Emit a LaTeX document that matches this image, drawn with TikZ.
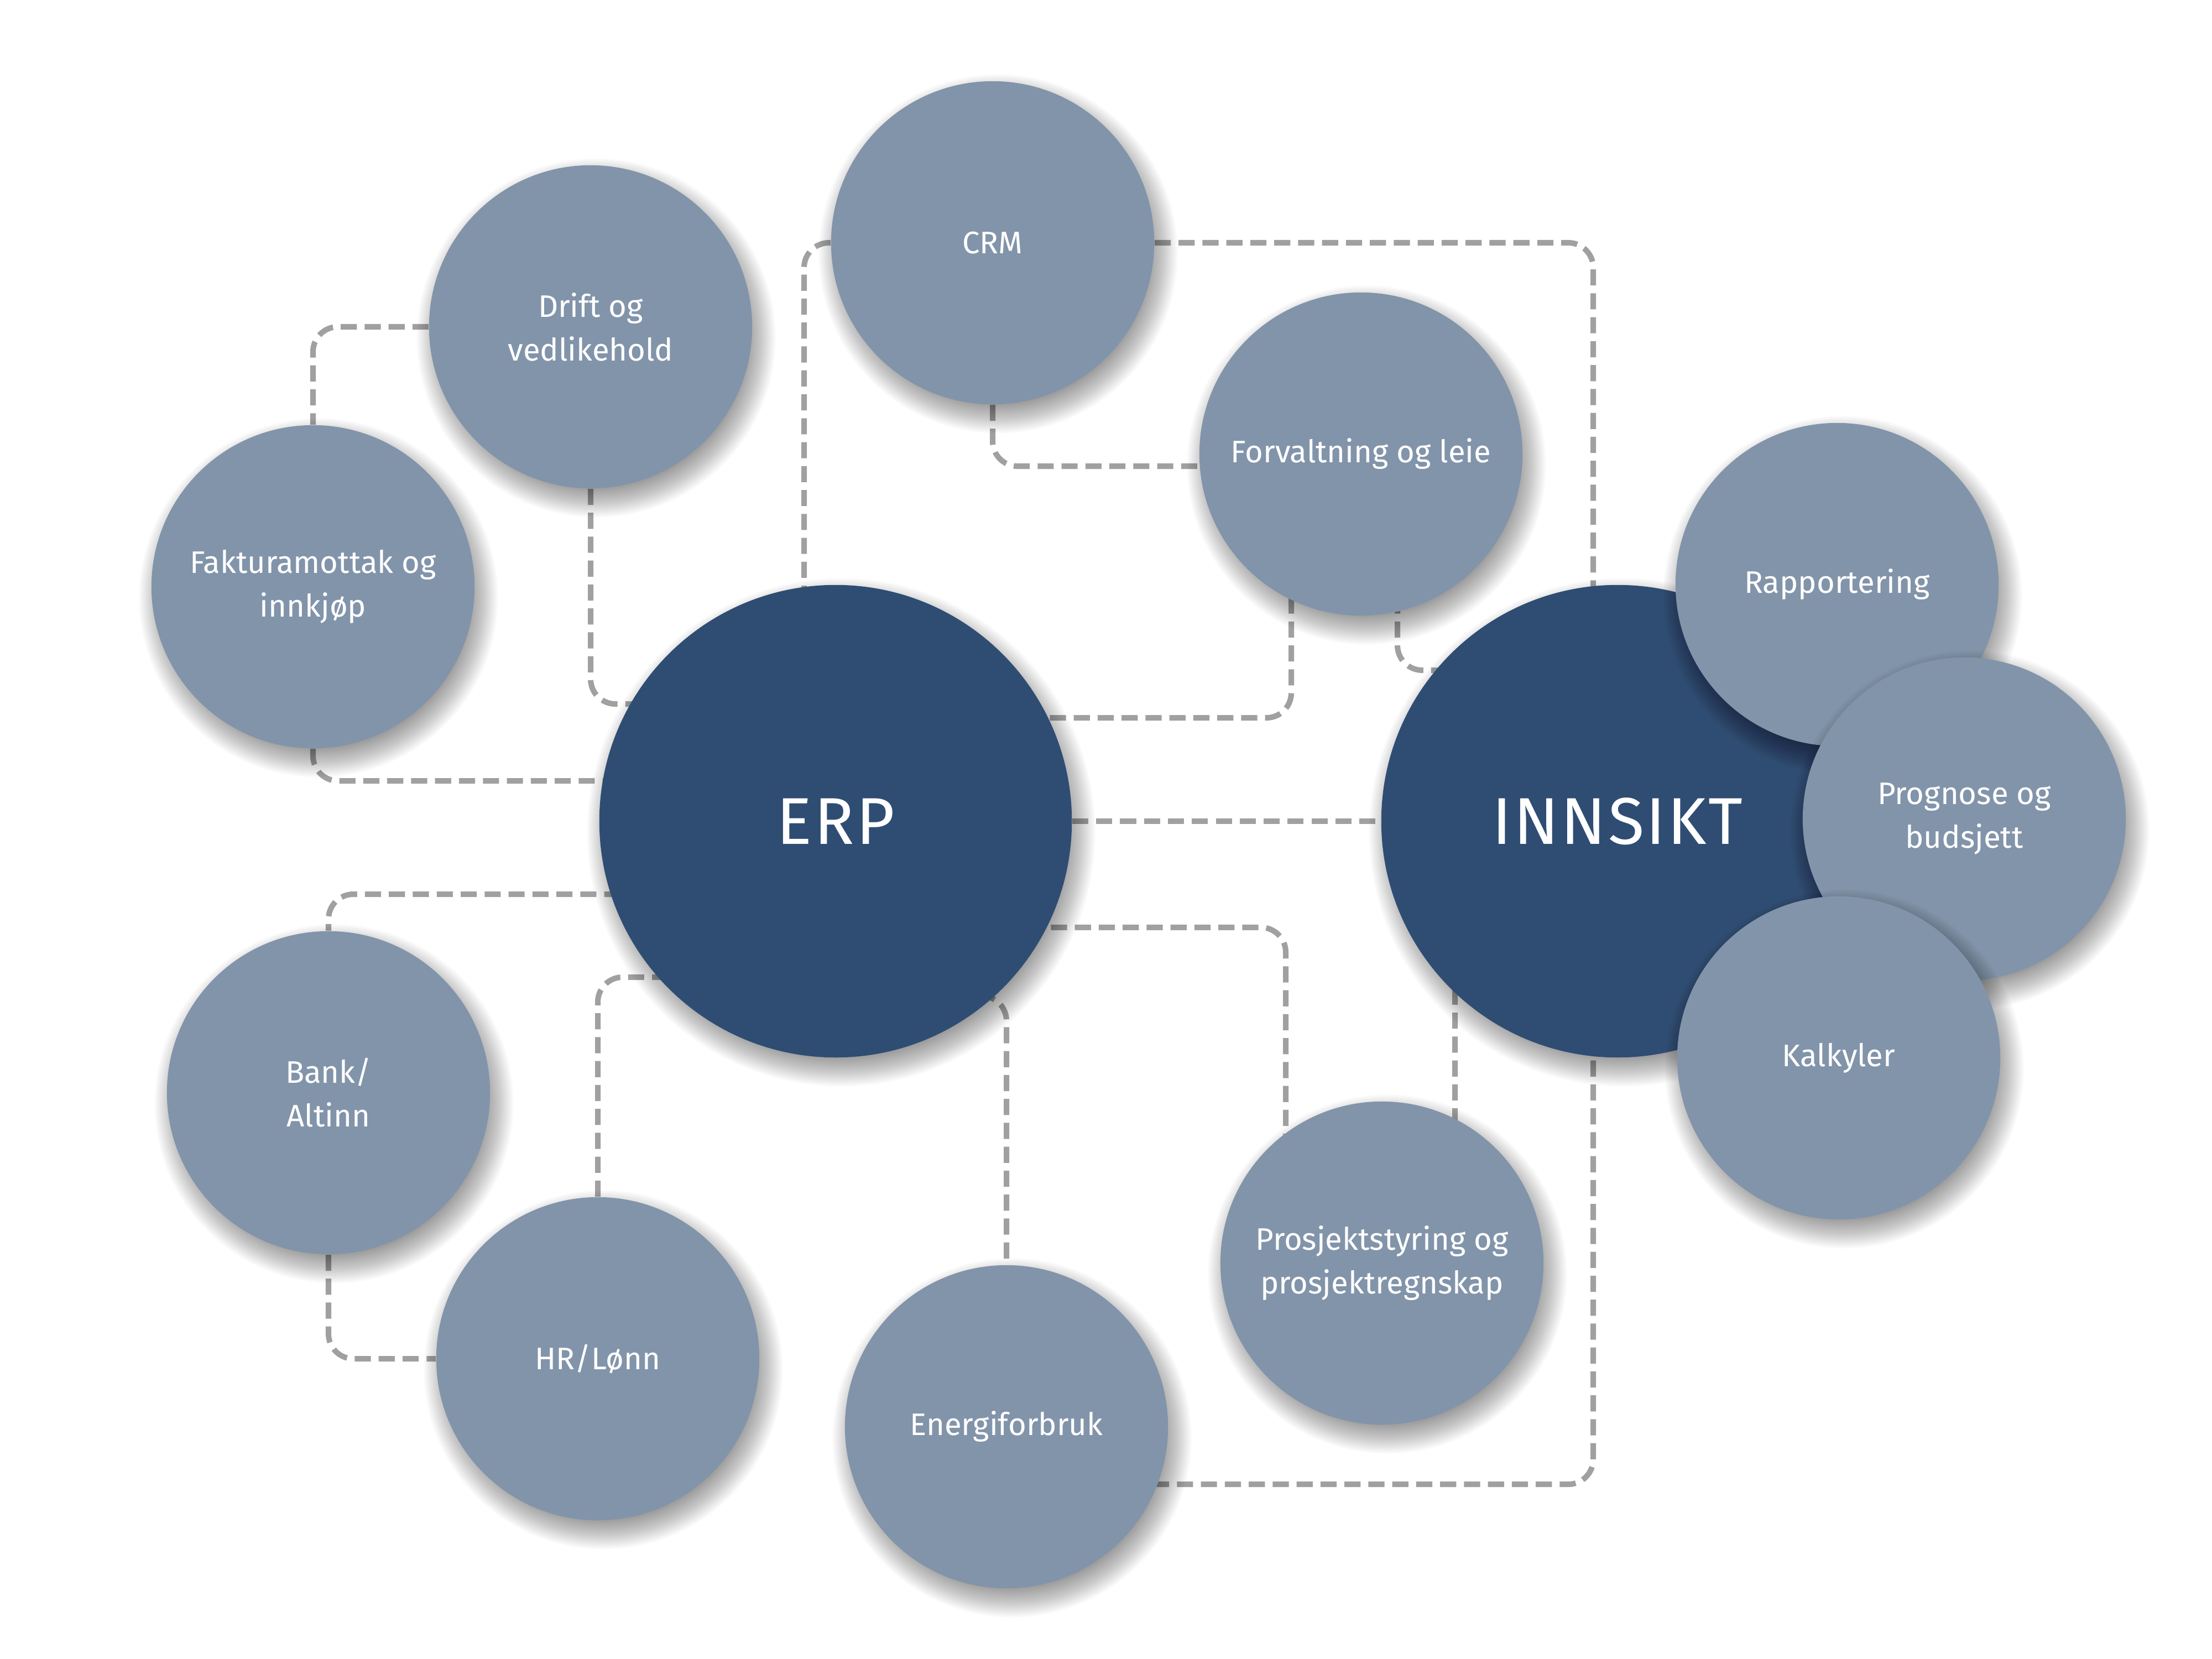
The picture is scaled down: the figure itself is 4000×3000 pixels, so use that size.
\documentclass[tikz,border=0pt]{standalone}
\usepackage{fontspec}
\setmainfont{Fira Sans}
\usetikzlibrary{calc}
\definecolor{smallblue}{HTML}{8294AA}
\definecolor{bigblue}{HTML}{2F4D72}
\definecolor{conngray}{HTML}{A0A0A0}
\pgfdeclarelayer{paper}
\pgfdeclarelayer{bg}
\pgfsetlayers{paper,bg,main}
\newcommand\softshadow[3]{%
  \foreach \k in {0,...,23}{\fill[black,opacity=0.019] ({#1+10},{#2+20}) circle[radius={#3-25+2.5*\k}];}}
\tikzset{
  smallc/.style={circle,fill=smallblue,minimum size=5.84cm,inner sep=0pt,text=white,align=center,
    font=\fontsize{16}{22.5}\selectfont},
  bigc/.style={circle,fill=bigblue,minimum size=8.54cm,inner sep=0pt,text=white,align=center,
    font=\fontsize{34}{40}\selectfont\addfontfeature{LetterSpace=3}},
  conn/.style={draw=conngray,line width=2.85pt,dash pattern=on 8.3pt off 4pt,rounded corners=12.8pt}
}
\begin{document}
\begin{tikzpicture}[x=0.01cm,y=-0.01cm]
\useasboundingbox (0,0) rectangle (4000,3000);
\begin{pgfonlayer}{paper}
\fill[white] (0,0) rectangle (4000,3000);
\end{pgfonlayer}
% circles
\softshadow{566}{1061}{292}
\node[smallc] (fakt) at (566,1061) {Fakturamottak og\\innkjøp};
\softshadow{1068}{591}{292}
\node[smallc] (drift) at (1068,591) {Drift og\\vedlikehold};
\softshadow{1795}{439}{292}
\node[smallc] (crm) at (1795,439) {CRM};
\softshadow{2461}{821}{292}
\node[smallc] (forv) at (2461,821) {Forvaltning og leie};
\softshadow{594}{1976}{292}
\node[smallc] (bank) at (594,1976) {Bank/\\Altinn};
\softshadow{1081}{2457}{292}
\node[smallc] (hr) at (1081,2457) {HR/Lønn};
\softshadow{1820}{2580}{292}
\node[smallc] (energi) at (1820,2580) {Energiforbruk};
\softshadow{2499}{2284}{292}
\node[smallc] (prosj) at (2499,2284) {Prosjektstyring og\\prosjektregnskap};
\softshadow{1511}{1485}{427}
\node[bigc] (erp) at (1511,1485) {ERP};
\softshadow{2925}{1485}{427}
\node[bigc] (inn) at (2925,1485) {INNSIKT};
\softshadow{3322}{1057}{292}
\node[smallc] (rapp) at (3322,1057) {Rapportering};
\softshadow{3552}{1481}{292}
\node[smallc] (prog) at (3552,1481) {Prognose og\\budsjett};
\softshadow{3325}{1913}{292}
\node[smallc] (kalk) at (3325,1913) {Kalkyler};
% connectors
\begin{pgfonlayer}{bg}
\draw[conn] (drift.west) -| (fakt.north);
\draw[conn] (drift.south) |- ($(erp)+(0,-212)$);
\draw[conn] (fakt.south) |- ($(erp)+(0,-73)$);
\draw[conn] (crm.west) -| ($(erp)+(-57,0)$);
\draw[conn] (crm.south) |- ($(forv)+(0,22)$);
\draw[conn] (crm.east) -| ($(inn)+(-44,0)$);
\draw[conn] ($(forv)+(-126,0)$) |- ($(erp)+(0,-187)$);
\draw[conn] ($(forv)+(66,0)$) |- ($(inn)+(0,-273)$);
\draw[conn] (erp.east) -- (inn.west);
\draw[conn] ($(erp)+(0,192)$) -| ($(prosj)+(-174,0)$);
\draw[conn] ($(inn)+(-294,0)$) |- (prosj);
\draw[conn] ($(inn)+(-44,0)$) |- ($(energi)+(0,104)$);
\draw[conn] ($(erp)+(0,132)$) -| (bank);
\draw[conn] ($(erp)+(0,282)$) -| (hr);
\draw[conn] ($(erp)+(0,316)$) -| (energi);
\draw[conn] (bank.south) |- (hr);
\end{pgfonlayer}
\end{tikzpicture}
\end{document}
